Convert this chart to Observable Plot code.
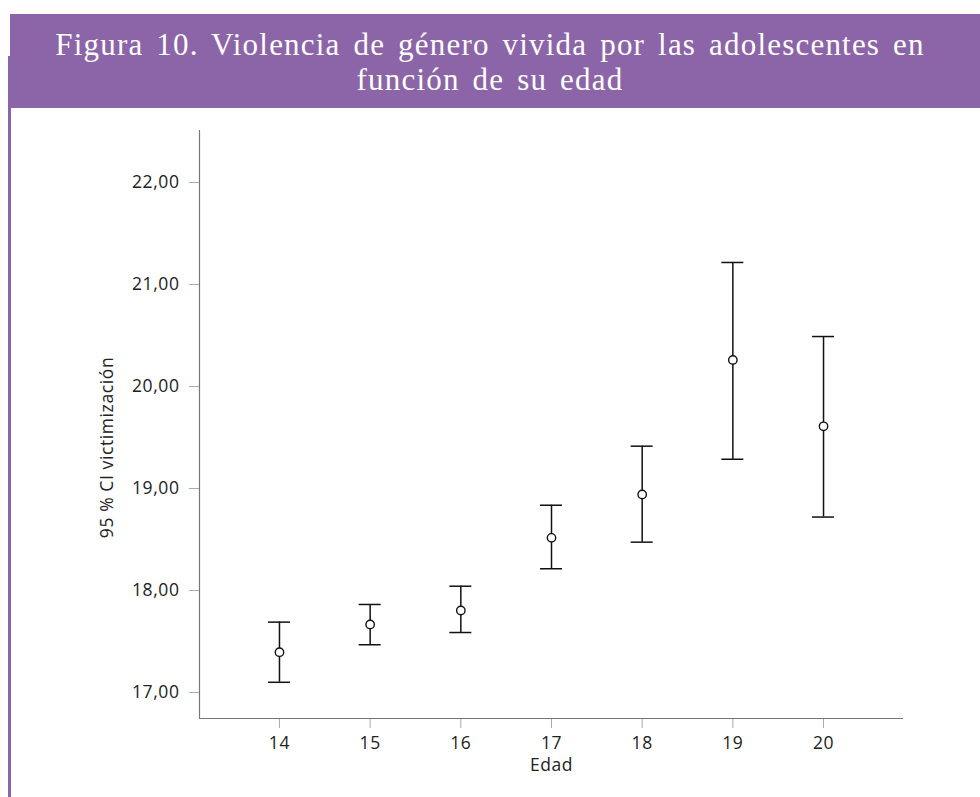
<!DOCTYPE html>
<html>
<head>
<meta charset="utf-8">
<script src="https://cdn.jsdelivr.net/npm/d3@7"></script>
<script src="https://cdn.jsdelivr.net/npm/@observablehq/plot@0.6"></script>
<style>
  html, body { margin: 0; padding: 0; background: #fff; }
  #page { position: relative; width: 980px; height: 797px; overflow: hidden; }
  #header { position: absolute; left: 10px; top: 14px; width: 970px; height: 94px; background: #8c65a9; }
  #title { position: absolute; left: 0; top: 0; width: 960px; text-align: center; color: #fff;
    font-family: "Liberation Serif", "DejaVu Serif", serif; font-size: 31px; line-height: 35px; padding-top: 13px;
    letter-spacing: 1.2px; word-spacing: 4px; }
  #leftline { position: absolute; left: 8px; top: 56px; width: 3px; height: 741px; background: #8c65a9; }
  #chart { position: absolute; left: 0; top: 108px; }
  #chart svg text { letter-spacing: 0.6px; }
  #chart g[aria-label="y-axis"] .tick line, #chart g[aria-label="x-axis"] .tick line,
  #chart g[aria-label="y-axis tick"], #chart g[aria-label="x-axis tick"] { stroke: #aaa; }
</style>
</head>
<body>
<div id="page">
  <div id="header"><div id="title">Figura 10. Violencia de género vivida por las adolescentes en<br>función de su edad</div></div>
  <div id="leftline"></div>
  <div id="chart"></div>
</div>
<script>
const ages = [14, 15, 16, 17, 18, 19, 20];
const means = [17.395, 17.667, 17.804, 18.516, 18.941, 20.26, 19.61];
const lower = [17.10, 17.468, 17.588, 18.213, 18.474, 19.287, 18.72];
const upper = [17.69, 17.863, 18.042, 18.836, 19.415, 21.216, 20.49];
const yTicks = [17, 18, 19, 20, 21, 22];
const xLabel = "Edad";
const yLabel = "95 % CI victimización";

const xDomain = [13.118, 20.882];
const yDomain = [16.745, 22.51];

const data = ages.map((a, i) => ({age: a, mean: means[i], lo: lower[i], hi: upper[i]}));

const chart = Plot.plot({
  width: 980,
  height: 689,
  marginTop: 22,
  marginBottom: 79,
  marginLeft: 199,
  marginRight: 77,
  style: {fontFamily: "'Open Sans', sans-serif", fontSize: "17.5px", color: "#222", background: "transparent", overflow: "visible"},
  x: {domain: xDomain, ticks: ages, tickFormat: d => String(d), tickSize: 10, tickPadding: 8, label: null},
  y: {domain: yDomain, ticks: yTicks, tickFormat: d => d.toFixed(2).replace(".", ","), tickSize: 10, tickPadding: 10, label: null},
  marks: [
    Plot.ruleX([xDomain[0]], {y1: yDomain[0], y2: yDomain[1], stroke: "#777", strokeWidth: 1.2}),
    Plot.ruleY([yDomain[0]], {x1: xDomain[0], x2: xDomain[1], stroke: "#777", strokeWidth: 1.2}),
    Plot.ruleX(data, {x: "age", y1: "lo", y2: "hi", stroke: "#111", strokeWidth: 1.5}),
    Plot.ruleY(data, {y: "hi", x1: "age", x2: "age", insetLeft: -11, insetRight: -11, stroke: "#111", strokeWidth: 1.5}),
    Plot.ruleY(data, {y: "lo", x1: "age", x2: "age", insetLeft: -11, insetRight: -11, stroke: "#111", strokeWidth: 1.5}),
    Plot.dot(data, {x: "age", y: "mean", r: 4.2, stroke: "#111", fill: "white", strokeWidth: 1.4}),
    Plot.text([xLabel], {frameAnchor: "bottom", dy: 52, fill: "#222"}),
    Plot.text([yLabel], {frameAnchor: "left", textAnchor: "middle", rotate: -90, dx: -92, dy: 23, fill: "#222"})
  ]
});
document.getElementById("chart").appendChild(chart);
</script>
</body>
</html>
